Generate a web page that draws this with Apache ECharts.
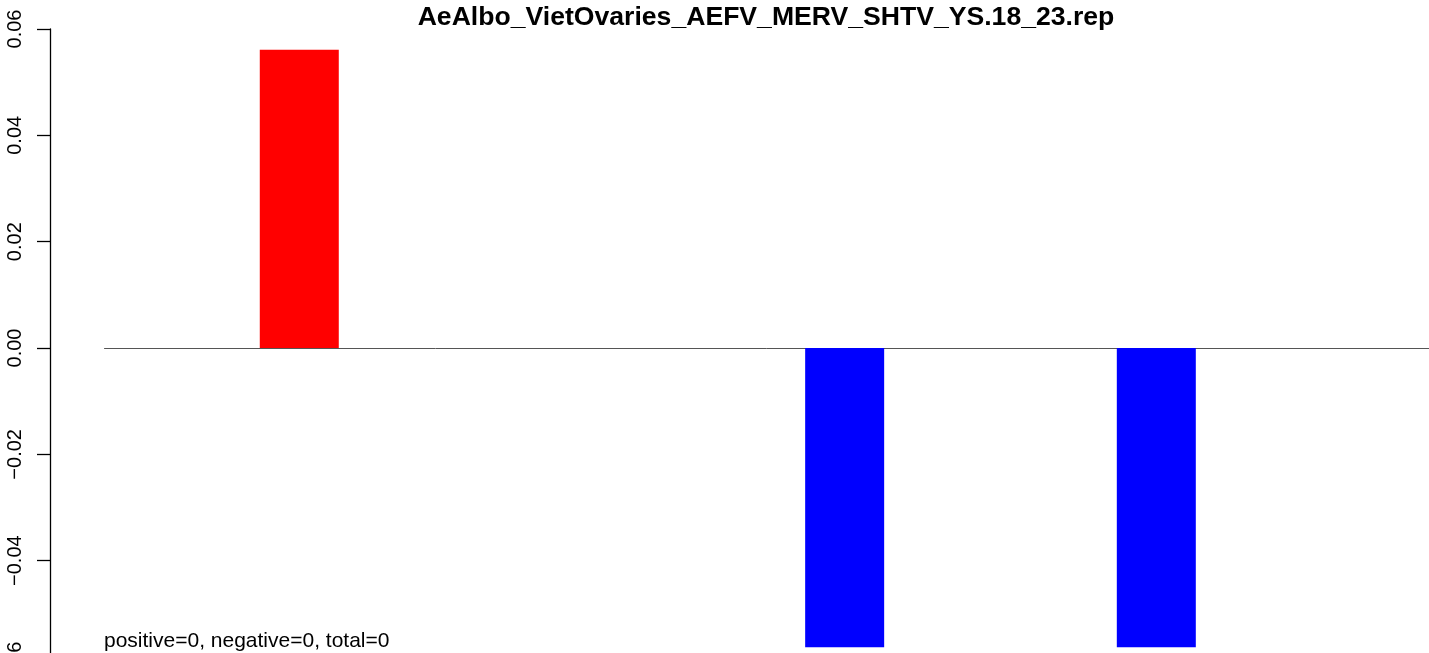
<!DOCTYPE html>
<html>
<head>
<meta charset="utf-8">
<script src="https://cdn.jsdelivr.net/npm/echarts@6/dist/echarts.min.js"></script>
<style>html,body{margin:0;padding:0;background:#fff;overflow:hidden}#c{width:1429px;height:700px}</style>
</head>
<body>
<div id="c"></div>
<script>
const titleText = 'AeAlbo_VietOvaries_AEFV_MERV_SHTV_YS.18_23.rep';
const noteText = 'positive=0, negative=0, total=0';
const categories = ['1','2','3','4','5','6','7','8','9','10','11','12','13','14','15','16','17'];
const values = [0, 0, 0.0561, 0, 0, 0, 0, 0, 0, -0.0563, 0, 0, 0, -0.0563, 0, 0, 0];
const yTicks = [-0.06, -0.04, -0.02, 0, 0.02, 0.04, 0.06];
const posColor = '#ff0000';
const negColor = '#0000ff';

const FONT = "'Liberation Sans', Arial, Helvetica, sans-serif";
const chart = echarts.init(document.getElementById('c'), null, {renderer: 'canvas'});
chart.setOption({
  animation: false,
  backgroundColor: '#ffffff',
  title: [
    {text: titleText, left: 761, textAlign: 'center', top: -1,
     textStyle: {fontFamily: FONT, fontSize: 26.6, fontWeight: 'bold', color: '#000'}},
    {text: noteText, left: 99, top: 626,
     textStyle: {fontFamily: FONT, fontSize: 21, fontWeight: 'normal', color: '#000'}}
  ],
  grid: {left: 104.5, right: -1.5, top: 29, bottom: 33, containLabel: false},
  xAxis: {
    type: 'category', data: categories,
    axisLine: {show: true, onZero: true, lineStyle: {color: '#555', width: 1}},
    axisTick: {show: false}, axisLabel: {show: false}, splitLine: {show: false}
  },
  yAxis: {
    type: 'value', min: -0.06, max: 0.06, interval: 0.02, offset: 54.5,
    axisLine: {show: true, lineStyle: {color: '#000', width: 1.3}},
    axisTick: {show: true, length: 13, lineStyle: {color: '#000', width: 1.3}},
    splitLine: {show: false},
    axisLabel: {
      rotate: 90, margin: 25, fontFamily: FONT, fontSize: 20, color: '#000',
      formatter: function (v) {
        const t = yTicks.reduce((a, b) => Math.abs(b - v) < Math.abs(a - v) ? b : a);
        return (t < 0 ? '\u2212' : '') + Math.abs(t).toFixed(2);
      }
    }
  },
  series: [{
    type: 'bar', barWidth: 79, barGap: '0%',
    data: values.map(v => ({value: v, itemStyle: {color: v >= 0 ? posColor : negColor}}))
  }]
});
</script>
</body>
</html>
